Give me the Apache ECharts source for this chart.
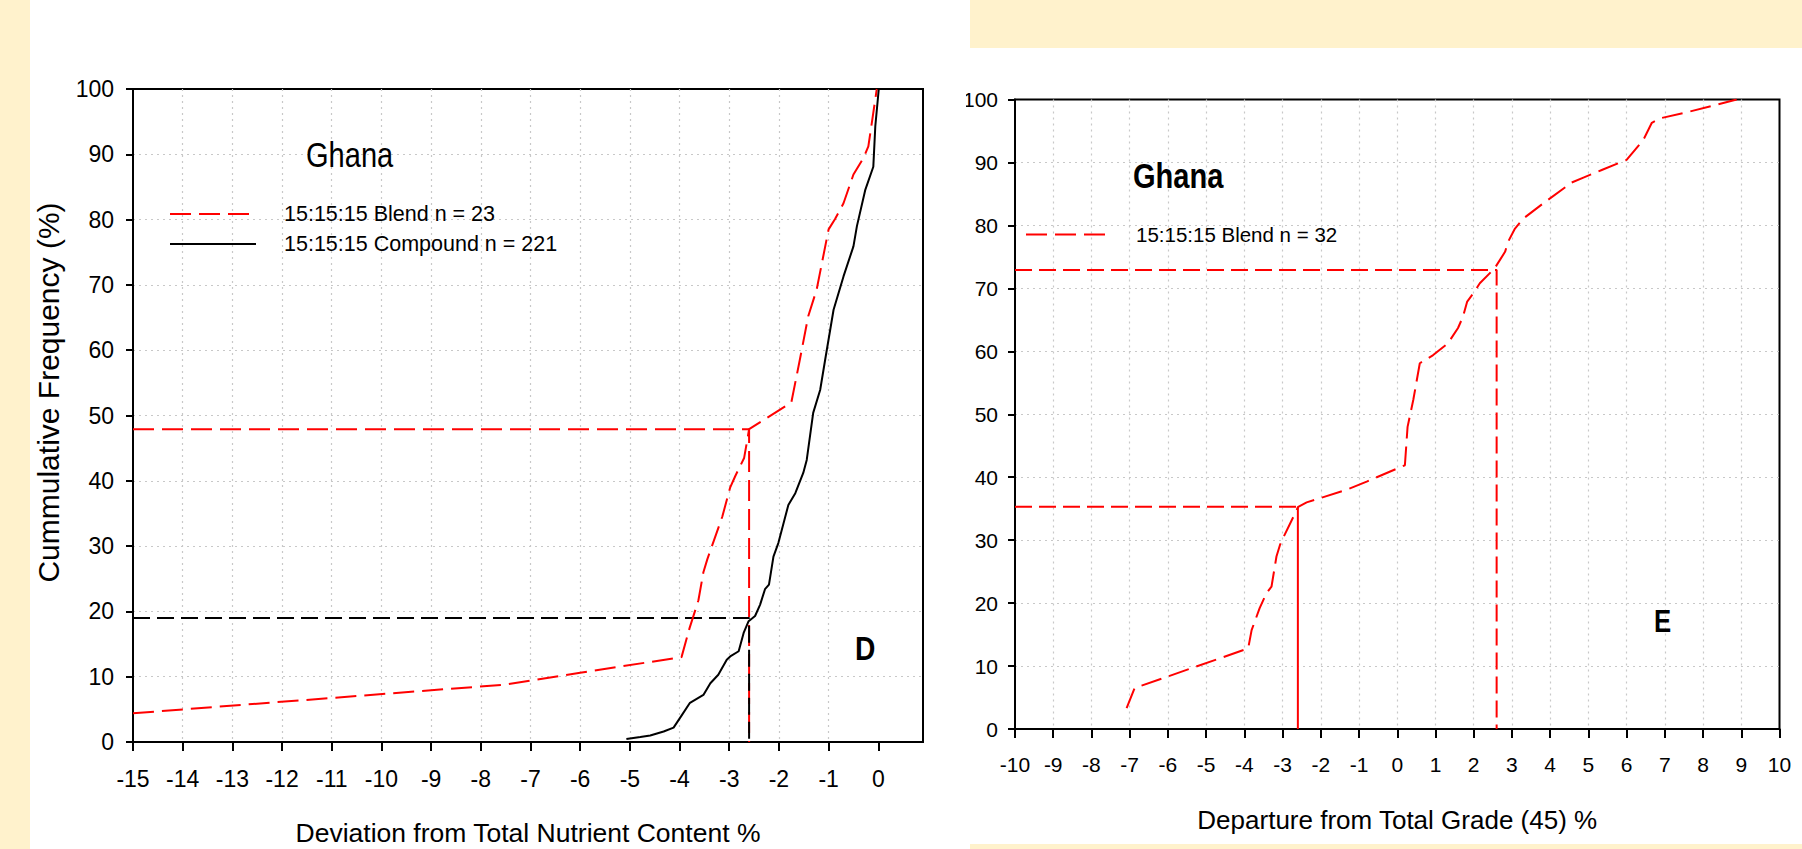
<!DOCTYPE html>
<html>
<head>
<meta charset="utf-8">
<title>Ghana cumulative frequency</title>
<script src="https://cdn.jsdelivr.net/npm/echarts@6/dist/echarts.min.js"></script>
<style>
  html, body { margin: 0; padding: 0; background: #fff2cc; }
  #chart { width: 1802px; height: 849px; }
</style>
</head>
<body>
<div id="chart"></div>
<script>
// ---- left panel (D): deviation from total nutrient content ----
const leftXTicks = [-15, -14, -13, -12, -11, -10, -9, -8, -7, -6, -5, -4, -3, -2, -1, 0];
const leftBlendX = [-15, -7.5, -6, -3.96, -3.8, -3.62, -3.52, -3.44, -3.14, -2.98, -2.88, -2.7, -2.6,
  -1.75, -1.58, -1.41, -1.24, -1.0, -0.87, -0.7, -0.5, -0.3, -0.2, -0.03];
const leftBlendY = [4.4, 8.8, 10.6, 13.0, 17.4, 21.7, 26.0, 28.0, 34.5, 39.0, 40.7, 43.5, 47.9,
  52.0, 58.5, 65.2, 69.3, 78.5, 80.1, 82.5, 86.9, 89.4, 91.2, 100];
const leftCompoundX = [-5.07, -4.79, -4.59, -4.32, -4.12, -3.99, -3.79, -3.52, -3.38, -3.22, -3.05, -2.98,
  -2.81, -2.71, -2.61, -2.48, -2.38, -2.28, -2.2, -2.11, -2.01, -1.81, -1.67, -1.51, -1.44, -1.31,
  -1.17, -1.07, -0.9, -0.7, -0.5, -0.43, -0.26, -0.1, -0.06, 0.01];
const leftCompoundY = [0.45, 0.77, 1.0, 1.6, 2.2, 3.7, 6.0, 7.2, 9.0, 10.3, 12.6, 13.1,
  13.9, 16.7, 18.5, 19.3, 21.0, 23.4, 24.1, 28.4, 30.5, 36.3, 38.1, 41.2, 43.2, 50.4,
  53.9, 58.5, 66.2, 71.3, 75.9, 79.0, 84.6, 88.1, 94.3, 100];
const leftRefBlendX = [-15, -2.6, -2.6];
const leftRefBlendY = [47.9, 47.9, 0];
const leftRefCompoundX = [-15, -2.6, -2.6];
const leftRefCompoundY = [19, 19, 0];

// ---- right panel (E): departure from total grade ----
const rightBlendX = [-7.08, -6.87, -3.9, -3.81, -3.6, -3.42, -3.29, -3.16, -3.07, -2.99, -2.59, -2.37,
  -1.33, -0.8, 0.2, 0.27, 0.42, 0.59, 0.94, 1.33, 1.59, 1.72, 1.83, 1.99, 2.16, 2.55, 2.82, 2.9,
  3.08, 3.3, 3.82, 4.56, 4.87, 5.35, 6.0, 6.44, 6.66, 6.87, 7.66, 8.88];
const rightBlendY = [3.3, 6.5, 12.8, 15.7, 19.2, 21.6, 22.6, 27.4, 29.2, 30.3, 35.3, 36.0,
  38.0, 39.3, 41.9, 48.0, 52.3, 58.1, 59.4, 61.3, 63.7, 65.5, 67.9, 69.2, 70.8, 73.2, 75.8, 77.4,
  79.5, 81.1, 83.5, 86.8, 87.6, 88.8, 90.4, 93.6, 96.3, 97.0, 98.1, 100];
const rightRefHighX = [-10, 2.6, 2.6];
const rightRefHighY = [72.9, 72.9, 0];
const rightRefLowX = [-10, -2.6];
const rightRefLowY = [35.3, 35.3];
const rightDropLowX = [-2.6, -2.6];
const rightDropLowY = [35.3, 0];

const leftLegend = ['15:15:15 Blend n = 23', '15:15:15 Compound n = 221'];
const rightLegend = ['15:15:15 Blend n = 32'];

const pairs = (xs, ys) => xs.map((x, i) => [x, ys[i]]);

const FONT = "'Liberation Sans', Arial, sans-serif";
const RED = '#ff0000';
const gridLine = {
  show: true, showMinLine: false, showMaxLine: false,
  lineStyle: {color: '#c8c8c8', width: 1.2, type: [2, 4]}
};

function lineSeries(name, xi, data, color, dash) {
  return {
    name: name,
    type: 'line',
    xAxisIndex: xi,
    yAxisIndex: xi,
    data: data,
    symbol: 'none',
    silent: true,
    animation: false,
    itemStyle: {color: color},
    lineStyle: {color: color, width: 2, type: dash}
  };
}

// narrow lettering of the original, squeezed horizontally
function label(text, x, y, size, weight) {
  return {
    type: 'text', x: x, y: y, scaleX: 0.83, z: 50, silent: true,
    style: {text: text, fill: '#000', font: weight + ' ' + size + 'px ' + FONT,
      textVerticalAlign: 'middle'}
  };
}

const chart = echarts.init(document.getElementById('chart'), null, {renderer: 'svg'});

const option = {
  backgroundColor: '#fff2cc',
  animation: false,
  textStyle: {fontFamily: FONT},
  graphic: {
    elements: [
      {type: 'rect', z: -10, silent: true, shape: {x: 30, y: 0, width: 940, height: 849}, style: {fill: '#ffffff'}},
      {type: 'rect', z: -10, silent: true, shape: {x: 967, y: 48, width: 835, height: 796}, style: {fill: '#ffffff'}},
      // the left slide overlaps the right one and hides part of its first label
      {type: 'rect', z: 100, silent: true, shape: {x: 930, y: 60, width: 36, height: 80}, style: {fill: '#ffffff'}},
      label('Ghana', 306, 155, 35, 'normal'),
      label('D', 855, 649, 34, 'bold'),
      label('Ghana', 1133, 176, 35, 'bold'),
      label('E', 1654, 621, 31, 'bold')
    ]
  },
  legend: [
    {
      data: leftLegend, orient: 'vertical', left: 169, top: 203, padding: 0,
      itemWidth: 86, itemHeight: 14, itemGap: 8,
      itemStyle: {opacity: 0, borderWidth: 0},
      textStyle: {fontSize: 21.5, color: '#000', padding: [0, 0, 0, 23]}
    },
    {
      data: rightLegend, orient: 'vertical', left: 1025, top: 224, padding: 0,
      itemWidth: 80, itemHeight: 14,
      itemStyle: {opacity: 0, borderWidth: 0},
      textStyle: {fontSize: 20.5, color: '#000', padding: [0, 0, 0, 25]}
    }
  ],
  grid: [
    {left: 133, top: 89, width: 790, height: 653, outerBoundsMode: 'none',
      show: true, borderColor: '#000', borderWidth: 2},
    {left: 1015, top: 99.5, width: 764.5, height: 629.5, outerBoundsMode: 'none',
      show: true, borderColor: '#000', borderWidth: 2}
  ],
  xAxis: [
    {
      gridIndex: 0, type: 'value', min: -15, max: 0.9, interval: 1,
      axisLine: {show: true, onZero: false, lineStyle: {color: '#000', width: 2}},
      axisTick: {show: true, length: 9, customValues: leftXTicks, lineStyle: {color: '#000', width: 2}},
      axisLabel: {customValues: leftXTicks, fontSize: 23, margin: 25, color: '#000'},
      splitLine: gridLine,
      name: 'Deviation from Total Nutrient Content %', nameLocation: 'middle', nameGap: 77,
      nameTextStyle: {fontSize: 26.5, color: '#000'}
    },
    {
      gridIndex: 1, type: 'value', min: -10, max: 10, interval: 1,
      axisLine: {show: true, onZero: false, lineStyle: {color: '#000', width: 2}},
      axisTick: {show: true, length: 9, lineStyle: {color: '#000', width: 2}},
      axisLabel: {fontSize: 21, margin: 25, color: '#000'},
      splitLine: gridLine,
      name: 'Departure from Total Grade (45) %', nameLocation: 'middle', nameGap: 78,
      nameTextStyle: {fontSize: 26, color: '#000'}
    }
  ],
  yAxis: [
    {
      gridIndex: 0, type: 'value', min: 0, max: 100, interval: 10,
      axisLine: {show: true, onZero: false, lineStyle: {color: '#000', width: 2}},
      axisTick: {show: true, length: 7, lineStyle: {color: '#000', width: 2}},
      axisLabel: {fontSize: 23, margin: 19, color: '#000'},
      splitLine: gridLine,
      name: 'Cummulative Frequency (%)', nameLocation: 'middle', nameGap: 70,
      nameTextStyle: {fontSize: 30, color: '#000', padding: [0, 0, 0, 46]}
    },
    {
      gridIndex: 1, type: 'value', min: 0, max: 100, interval: 10,
      axisLine: {show: true, onZero: false, lineStyle: {color: '#000', width: 2}},
      axisTick: {show: true, length: 7, lineStyle: {color: '#000', width: 2}},
      axisLabel: {fontSize: 21, margin: 17, color: '#000'},
      splitLine: gridLine
    }
  ],
  series: [
    lineSeries('Blend reference (left)', 0, pairs(leftRefBlendX, leftRefBlendY), RED, [21, 8]),
    lineSeries('Compound reference (left)', 0, pairs(leftRefCompoundX, leftRefCompoundY), '#000', [17, 7]),
    lineSeries(leftLegend[0], 0, pairs(leftBlendX, leftBlendY), RED, [21, 8]),
    lineSeries(leftLegend[1], 0, pairs(leftCompoundX, leftCompoundY), '#000', 'solid'),
    lineSeries('Upper reference (right)', 1, pairs(rightRefHighX, rightRefHighY), RED, [17, 7]),
    lineSeries('Lower reference (right)', 1, pairs(rightRefLowX, rightRefLowY), RED, [17, 7]),
    lineSeries('Lower drop (right)', 1, pairs(rightDropLowX, rightDropLowY), RED, 'solid'),
    lineSeries(rightLegend[0], 1, pairs(rightBlendX, rightBlendY), RED, [21, 8])
  ]
};

chart.setOption(option);
window.addEventListener('resize', function () {
  chart.resize();
});
</script>
</body>
</html>
